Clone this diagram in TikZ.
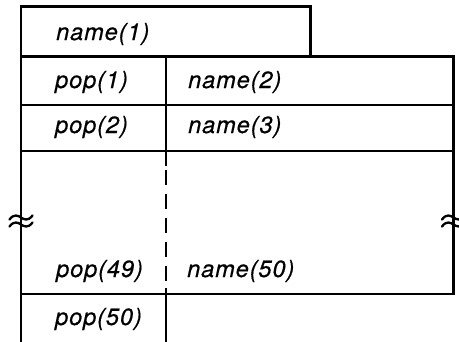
\documentclass[tikz,border=0pt]{standalone}
\usepackage{fontspec}
\setmainfont{TeX Gyre Heros}[LetterSpace=4, ItalicFeatures={FakeBold=0.6}]
\begin{document}
\begin{tikzpicture}[x=1bp,y=-1bp,
    rule/.style={line width=2.6bp, line cap=rect},
    cell/.style={anchor=base west, inner sep=0pt, font=\fontsize{23.5bp}{27bp}\selectfont\itshape},
    squig/.style={line width=2.3bp, line cap=round}]
  \useasboundingbox (0,0) rectangle (459,341);
  \clip (0,0) rectangle (459,341);
  % outer frame and row rules
  \draw[rule] (21,345) -- (21,6.5) -- (310.5,6.5) -- (310.5,56.5);
  \draw[rule] (21,56.5) -- (453.5,56.5) -- (453.5,294) -- (21,294);
  \draw[rule] (21,105) -- (453.5,105);
  \draw[rule] (21,151) -- (453.5,151);
  % column divider: solid, dashed over the gap, solid again
  \draw[rule] (166,56.5) -- (166,165);
  \draw[line width=2.6bp, dash pattern=on 15bp off 9bp] (166,170) -- (166,288);
  \draw[rule] (166,289) -- (166,345);
  % break marks
  \foreach \cx in {21,453.5}{
    \foreach \dy in {-3.5,3.5}{
      \draw[squig] (\cx-11.5,221+\dy+2) .. controls (\cx-7,221+\dy-4) and (\cx-3,221+\dy-2) .. (\cx,221+\dy)
        .. controls (\cx+3,221+\dy+2) and (\cx+7,221+\dy+4) .. (\cx+11.5,221+\dy-2);
    }
  }
  % cell texts
  \node[cell] (n1) at (56,40) {name(1)};
  \node[cell] (p1) at (55,88) {pop(1)};
  \node[cell] (n2) at (188,88) {name(2)};
  \node[cell] (p2) at (55,133) {pop(2)};
  \node[cell] (n3) at (188,133) {name(3)};
  \node[cell] (p49) at (56,277) {pop(49)};
  \node[cell] (n50) at (187,277) {name(50)};
  \node[cell] (p50) at (55,325) {pop(50)};
\end{tikzpicture}
\end{document}
